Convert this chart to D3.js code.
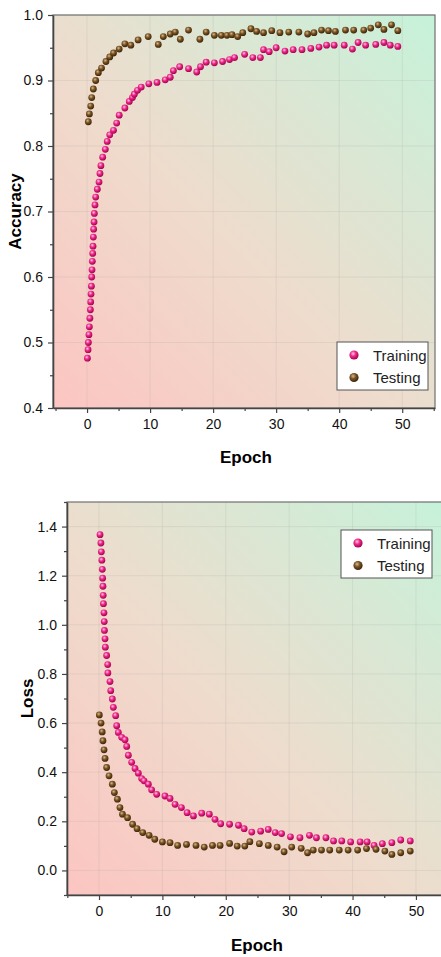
<!DOCTYPE html>
<html>
<head>
<meta charset="utf-8">
<script src="https://cdn.jsdelivr.net/npm/d3@7"></script>
<style>
  body { margin: 0; background: #fff; }
  text { font-family: "Liberation Sans Narrow", "Arial Narrow", "Liberation Sans", Arial, sans-serif; }
</style>
</head>
<body>
<div id="chart"></div>
<script>
// accuracy, [epoch, value]
const accTraining = [
  [0.06,0.476],[0.16,0.489],[0.21,0.500],[0.30,0.512],[0.37,0.524],[0.45,0.537],[0.53,0.550],[0.58,0.562],
  [0.63,0.574],[0.69,0.586],[0.74,0.600],[0.79,0.611],[0.84,0.624],[0.90,0.636],[0.95,0.647],[1.00,0.661],
  [1.05,0.673],[1.11,0.684],[1.16,0.697],[1.26,0.710],[1.37,0.722],[1.63,0.734],[1.90,0.745],[2.05,0.758],
  [2.20,0.770],[2.48,0.783],[2.90,0.795],[3.20,0.807],[3.60,0.817],[4.20,0.824],[4.70,0.835],[5.10,0.847],
  [6.00,0.858],[6.70,0.868],[7.20,0.874],[7.50,0.879],[8.00,0.885],[8.60,0.890],[9.80,0.895],[11.1,0.897],
  [12.4,0.901],[13.2,0.905],[13.7,0.915],[14.7,0.921],[16.1,0.918],[17.4,0.913],[18.0,0.921],[18.9,0.928],
  [20.2,0.927],[21.5,0.929],[22.6,0.932],[23.4,0.935],[25.0,0.940],[26.3,0.935],[27.5,0.935],[28.0,0.947],
  [28.9,0.944],[30.0,0.950],[31.4,0.945],[32.7,0.947],[34.1,0.947],[35.5,0.949],[36.8,0.951],[38.0,0.954],
  [39.2,0.954],[40.8,0.954],[42.1,0.948],[43.0,0.958],[44.2,0.954],[45.8,0.955],[47.1,0.958],[48.1,0.954],
  [49.3,0.952]
];
const accTesting = [
  [0.20,0.837],[0.37,0.849],[0.58,0.861],[0.74,0.874],[1.00,0.887],[1.37,0.900],[1.79,0.912],[2.30,0.919],
  [3.00,0.929],[3.60,0.936],[4.20,0.942],[5.10,0.948],[6.00,0.956],[6.95,0.954],[8.10,0.962],[9.70,0.967],
  [11.3,0.955],[12.1,0.967],[13.2,0.971],[14.0,0.974],[14.8,0.963],[16.1,0.977],[17.9,0.963],[18.9,0.974],
  [20.2,0.969],[21.3,0.969],[22.2,0.969],[23.0,0.970],[23.9,0.967],[24.7,0.973],[26.0,0.979],[26.9,0.975],
  [28.0,0.973],[29.3,0.976],[30.6,0.973],[32.0,0.974],[33.6,0.974],[35.0,0.971],[36.0,0.973],[37.2,0.977],
  [38.3,0.976],[39.4,0.975],[41.0,0.977],[42.3,0.977],[43.9,0.977],[45.0,0.980],[46.2,0.985],[47.1,0.978],
  [48.3,0.985],[49.3,0.976]
];
// loss, [epoch, value]
const lossTraining = [
  [0.16,1.367],[0.30,1.333],[0.37,1.297],[0.45,1.263],[0.52,1.226],[0.57,1.190],[0.62,1.157],[0.66,1.120],
  [0.70,1.086],[0.78,1.049],[0.83,1.013],[0.86,0.977],[0.95,0.943],[1.00,0.909],[1.20,0.875],[1.37,0.838],
  [1.40,0.804],[1.73,0.769],[1.85,0.732],[2.10,0.698],[2.26,0.664],[2.63,0.630],[2.79,0.589],[3.05,0.562],
  [3.58,0.542],[4.10,0.532],[4.37,0.505],[4.63,0.469],[5.15,0.440],[5.68,0.415],[6.20,0.396],[6.73,0.374],
  [7.10,0.365],[7.78,0.351],[8.30,0.328],[9.10,0.310],[10.4,0.303],[11.2,0.293],[12.0,0.269],[13.0,0.256],
  [13.9,0.235],[14.9,0.222],[16.2,0.233],[17.4,0.229],[18.3,0.208],[19.2,0.190],[20.6,0.188],[22.0,0.184],
  [22.9,0.170],[24.1,0.156],[25.5,0.160],[26.7,0.167],[27.8,0.154],[28.8,0.150],[30.2,0.137],[31.7,0.133],
  [33.2,0.143],[34.3,0.133],[35.8,0.133],[37.0,0.120],[38.3,0.120],[39.7,0.116],[41.2,0.116],[42.3,0.116],
  [43.4,0.102],[44.7,0.109],[46.2,0.113],[47.6,0.124],[49.1,0.120]
];
const lossTesting = [
  [0.05,0.633],[0.32,0.600],[0.50,0.564],[0.62,0.528],[0.79,0.491],[0.95,0.456],[1.20,0.419],[1.58,0.385],
  [2.10,0.351],[2.42,0.317],[2.90,0.290],[3.30,0.256],[3.70,0.229],[4.50,0.215],[5.30,0.188],[6.00,0.170],
  [6.90,0.154],[7.90,0.143],[8.80,0.127],[10.0,0.116],[11.2,0.113],[12.4,0.102],[13.8,0.106],[15.3,0.102],
  [16.6,0.095],[17.9,0.102],[19.1,0.102],[20.6,0.110],[21.8,0.099],[23.0,0.099],[23.8,0.117],[25.3,0.109],
  [26.7,0.102],[28.1,0.095],[29.2,0.076],[30.4,0.095],[31.9,0.090],[32.9,0.072],[33.8,0.083],[35.1,0.083],
  [36.4,0.083],[37.9,0.083],[39.3,0.083],[40.8,0.083],[42.2,0.089],[43.7,0.086],[45.1,0.079],[46.2,0.065],
  [47.6,0.072],[49.1,0.079]
];

const seriesNames = ["Training", "Testing"];
const xTicks = [0, 10, 20, 30, 40, 50];
const xMinorTicks = [-5, 5, 15, 25, 35, 45, 55];
const accTicks = [0.4, 0.5, 0.6, 0.7, 0.8, 0.9, 1.0];
const accMinorTicks = [0.45, 0.55, 0.65, 0.75, 0.85, 0.95];
const lossTicks = [0.0, 0.2, 0.4, 0.6, 0.8, 1.0, 1.2, 1.4];
const lossMinorTicks = [-0.1, 0.1, 0.3, 0.5, 0.7, 0.9, 1.1, 1.3, 1.5];

const width = 441, height = 957;

const svg = d3.select("#chart").append("svg")
  .attr("width", width)
  .attr("height", height)
  .attr("viewBox", [0, 0, width, height]);

const defs = svg.append("defs");

// pink -> beige -> mint background
const bg = defs.append("linearGradient")
  .attr("id", "bg")
  .attr("x1", 0).attr("y1", 1).attr("x2", 1).attr("y2", 0);
bg.append("stop").attr("offset", "0%").attr("stop-color", "#fcc5c1");
bg.append("stop").attr("offset", "45%").attr("stop-color", "#eedccd");
bg.append("stop").attr("offset", "100%").attr("stop-color", "#c6f2da");

// shaded ball markers
function ball(id, light, mid, dark) {
  let g = defs.append("radialGradient").attr("id", id)
    .attr("cx", "40%").attr("cy", "35%").attr("r", "65%");
  g.append("stop").attr("offset", "0%").attr("stop-color", light);
  g.append("stop").attr("offset", "45%").attr("stop-color", mid);
  g.append("stop").attr("offset", "100%").attr("stop-color", dark);
}
ball("pinkBall", "#ffc6e4", "#ee2a8a", "#a3004e");
ball("brownBall", "#d9b98a", "#7a5526", "#3b2306");
const fills = ["url(#pinkBall)", "url(#brownBall)"];

function panel(cfg) {
  let x = d3.scaleLinear().domain(cfg.xDomain).range([cfg.left, cfg.right]);
  let y = d3.scaleLinear().domain(cfg.yDomain).range([cfg.bottom, cfg.top]);

  let g = svg.append("g");
  let clipId = "clip" + cfg.id;
  defs.append("clipPath").attr("id", clipId)
    .append("rect")
    .attr("x", cfg.left).attr("y", cfg.top)
    .attr("width", cfg.right - cfg.left).attr("height", cfg.bottom - cfg.top);

  g.append("rect")
    .attr("x", cfg.left).attr("y", cfg.top)
    .attr("width", cfg.right - cfg.left).attr("height", cfg.bottom - cfg.top)
    .attr("fill", "url(#bg)");

  // faint grid
  let grid = g.append("g").attr("stroke", "#a0a0a0").attr("stroke-opacity", 0.18).attr("stroke-width", 1);
  grid.selectAll(".gx").data(xTicks).join("line")
    .attr("x1", d => x(d)).attr("x2", d => x(d))
    .attr("y1", cfg.top).attr("y2", cfg.bottom);
  grid.selectAll(".gy").data(cfg.yTicks).join("line")
    .attr("x1", cfg.left).attr("x2", cfg.right)
    .attr("y1", d => y(d)).attr("y2", d => y(d));

  // frame on top and right
  g.append("rect")
    .attr("x", cfg.left).attr("y", cfg.top)
    .attr("width", cfg.right - cfg.left).attr("height", cfg.bottom - cfg.top)
    .attr("fill", "none").attr("stroke", "#707070").attr("stroke-width", 1.2);

  // axes
  let xAxis = g.append("g")
    .attr("transform", `translate(0,${cfg.bottom})`)
    .call(d3.axisBottom(x).tickValues(xTicks).tickFormat(d3.format("d")).tickSize(5).tickSizeOuter(0).tickPadding(6));
  g.append("g")
    .attr("transform", `translate(0,${cfg.bottom})`)
    .call(d3.axisBottom(x).tickValues(xMinorTicks.filter(d => x(d) <= cfg.right)).tickFormat("").tickSize(3).tickSizeOuter(0))
    .select(".domain").remove();

  let yAxis = g.append("g")
    .attr("transform", `translate(${cfg.left},0)`)
    .call(d3.axisLeft(y).tickValues(cfg.yTicks).tickFormat(d3.format(".1f")).tickSize(5).tickSizeOuter(0).tickPadding(5));
  g.append("g")
    .attr("transform", `translate(${cfg.left},0)`)
    .call(d3.axisLeft(y).tickValues(cfg.yMinor).tickFormat("").tickSize(3).tickSizeOuter(0))
    .select(".domain").remove();

  g.selectAll(".domain").attr("stroke", "#444").attr("stroke-width", 1.6);
  g.selectAll(".tick line").attr("stroke", "#444").attr("stroke-width", 1.2);
  g.selectAll(".tick text").attr("font-size", 14).attr("fill", "#111")
    .attr("font-family", "'Liberation Sans Narrow', 'Arial Narrow', 'Liberation Sans', Arial, sans-serif");

  // points
  let pts = g.append("g").attr("clip-path", `url(#${clipId})`);
  cfg.series.forEach((s, i) => {
    pts.append("g").selectAll("circle")
      .data(s)
      .join("circle")
      .attr("cx", d => x(d[0]))
      .attr("cy", d => y(d[1]))
      .attr("r", 3.4)
      .attr("fill", fills[i]);
  });

  // axis titles
  g.append("text")
    .attr("x", cfg.titleX).attr("y", cfg.xTitleY)
    .attr("text-anchor", "middle")
    .attr("font-size", 17).attr("font-weight", "bold")
    .text("Epoch");
  g.append("text")
    .attr("transform", `translate(${cfg.yTitleX},${(cfg.top + cfg.bottom) / 2}) rotate(-90)`)
    .attr("text-anchor", "middle")
    .attr("font-size", 17).attr("font-weight", "bold")
    .text(cfg.yLabel);

  // legend
  let lg = g.append("g").attr("transform", `translate(${cfg.legend[0]},${cfg.legend[1]})`);
  lg.append("rect")
    .attr("width", 91).attr("height", 48)
    .attr("fill", "#fff").attr("stroke", "#555").attr("stroke-width", 1);
  seriesNames.forEach((name, i) => {
    lg.append("circle")
      .attr("cx", 17).attr("cy", 13 + i * 22.5).attr("r", 4.6)
      .attr("fill", fills[i]);
    lg.append("text")
      .attr("x", 36).attr("y", 18.5 + i * 22.5)
      .attr("font-size", 15).attr("fill", "#222")
      .text(name);
  });
}

panel({
  id: "acc",
  left: 53, right: 435, top: 15, bottom: 408,
  xDomain: [-5.4, 55.2],
  yDomain: [0.4, 1.0],
  yTicks: accTicks, yMinor: accMinorTicks,
  series: [accTraining, accTesting],
  yLabel: "Accuracy",
  titleX: 246, xTitleY: 463, yTitleX: 21,
  legend: [337, 342]
});

panel({
  id: "loss",
  left: 67, right: 447, top: 502, bottom: 895,
  xDomain: [-5.05, 54.9],
  yDomain: [-0.1, 1.5],
  yTicks: lossTicks, yMinor: lossMinorTicks,
  series: [lossTraining, lossTesting],
  yLabel: "Loss",
  titleX: 257, xTitleY: 951, yTitleX: 33,
  legend: [341, 530]
});
</script>
</body>
</html>
